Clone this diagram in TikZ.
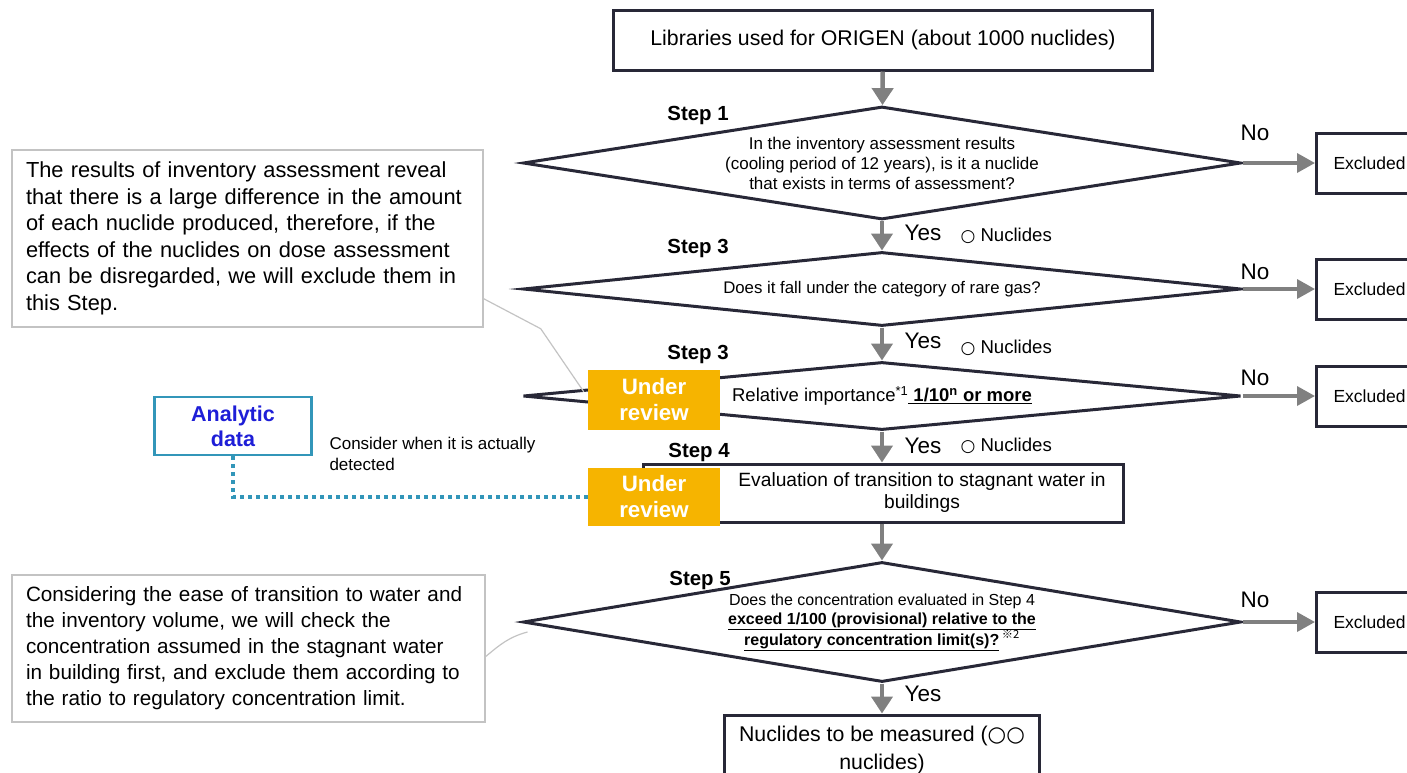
\documentclass[tikz,border=0pt]{standalone}
\usepackage{fontspec}
\setmainfont{Liberation Sans}
\newfontfamily\symfont{DejaVu Sans}
\newfontfamily\cjk{Noto Sans CJK SC}
\usepackage{tikz}
\usetikzlibrary{shapes.geometric,arrows.meta,positioning,calc}

\definecolor{boxline}{RGB}{40,40,55}
\definecolor{arrowgray}{RGB}{128,128,128}
\definecolor{noteline}{RGB}{195,195,195}
\definecolor{reviewbg}{RGB}{246,180,0}
\definecolor{analyticline}{RGB}{50,150,185}
\definecolor{analytictext}{RGB}{30,30,215}

\newcommand{\fsz}[2]{\fontsize{#1}{#2}\selectfont}

\begin{document}
\begin{tikzpicture}[x=1pt,y=-1pt]
        \tikzset{
            decision/.style={draw=boxline, line width=3pt, diamond, inner sep=0pt, align=center},
            procbox/.style={draw=boxline, line width=3pt, align=center, inner sep=0pt},
            exclbox/.style={draw=boxline, line width=3pt, anchor=west, minimum height=60pt,
                text width=95pt, inner xsep=17pt, align=left, font=\fsz{17.5}{20}},
            flowarrow/.style={draw=arrowgray, line width=4.5pt, -{Triangle[width=21pt,length=17pt]}},
            noarrow/.style={draw=arrowgray, line width=3.5pt, -{Triangle[width=19pt,length=18pt]}},
            note/.style={draw=noteline, line width=1.5pt, align=left, inner xsep=14pt},
            review/.style={fill=reviewbg, text=white, align=center, minimum width=132pt,
                font=\bfseries\fsz{22.3}{26}},
            steplbl/.style={font=\bfseries\fsz{20.4}{22}},
            bigtxt/.style={font=\fsz{22.5}{26}},
            nuctxt/.style={anchor=west, font=\fsz{18.6}{22}},
        }
        \useasboundingbox (0,0) rectangle (1407,772);

        % main column
        \node[procbox, minimum width=539pt, minimum height=60pt, font=\fsz{21.3}{26}] (lib) at (883,40)
            {Libraries used for ORIGEN (about 1000 nuclides)};
        \node[decision, aspect=6.35, minimum width=718pt, minimum height=113pt, font=\fsz{17}{20}] (s1) at (882,163)
            {In the inventory assessment results\\(cooling period of 12 years), is it a nuclide\\that exists in terms of assessment?};
        \node[decision, aspect=9.7, minimum width=718pt, minimum height=74pt, font=\fsz{16.8}{20}] (s2) at (882,289)
            {Does it fall under the category of rare gas?};
        \node[decision, aspect=10.5, minimum width=718pt, minimum height=68pt, font=\fsz{18.5}{22}] (s3) at (882,396)
            {Relative importance\textsuperscript{*1}\underline{\textbf{~1/10\textsuperscript{n} or more}}};
        \node[procbox, minimum width=480pt, minimum height=58pt, font=\fsz{19.2}{22}] (eval) at (883,493)
            {\hspace*{78pt}Evaluation of transition to stagnant water in\\\hspace*{78pt}buildings};
        \node[decision, aspect=6, minimum width=718pt, minimum height=120pt, font=\fsz{16}{19}] (s5) at (882,622)
            {Does the concentration evaluated in Step 4\\
             \underline{\textbf{exceed 1/100 (provisional) relative to the}}\\
             \underline{\textbf{regulatory concentration limit(s)?}}\,\textsuperscript{\cjk ※2}};
        \node[procbox, minimum width=315pt, minimum height=70pt, font=\fsz{21.3}{28}] (meas) at (882,750)
            {Nuclides to be measured ({\symfont ○○}\\nuclides)};

        \node[steplbl] (st1) at (698,115) {Step 1};
        \node[steplbl] (st2) at (698,248) {Step 3};
        \node[steplbl] (st3) at (698,354) {Step 3};
        \node[steplbl] (st4) at (699,452) {Step 4};
        \node[steplbl] (st5) at (700,580) {Step 5};

        \draw[flowarrow] (lib) -- (s1);
        \draw[flowarrow] (s1) -- (s2);
        \draw[flowarrow] (s2) -- (s3);
        \draw[flowarrow] (s3.south) -- (s3.south |- eval.north);
        \draw[flowarrow] (s3.south |- eval.south) -- (s5.north);
        \draw[flowarrow] (s5) -- (s5.south |- meas.north);

        \node[bigtxt] (yes1) at (923,233) {Yes};
        \node[bigtxt] (yes2) at (923,341) {Yes};
        \node[bigtxt] (yes3) at (923,446) {Yes};
        \node[bigtxt] (yes5) at (923,694) {Yes};
        \node[nuctxt] (nuc1) at (957,236) {{\symfont\fsz{17}{17}○} Nuclides};
        \node[nuctxt] (nuc2) at (957,348) {{\symfont\fsz{17}{17}○} Nuclides};
        \node[nuctxt] (nuc3) at (957,446) {{\symfont\fsz{17}{17}○} Nuclides};

        % excluded branch
        \node[exclbox] (ex1) at (1315,163) {Excluded};
        \node[exclbox] (ex2) at (1315,289) {Excluded};
        \node[exclbox] (ex3) at (1315,396) {Excluded};
        \node[exclbox] (ex5) at (1315,622) {Excluded};
        \draw[noarrow] (s1.east) -- (ex1.west);
        \draw[noarrow] (s2.east) -- (ex2.west);
        \draw[noarrow] (s3.east) -- (ex3.west);
        \draw[noarrow] (s5.east) -- (ex5.west);
        \node[bigtxt] (no1) at (1255,133) {No};
        \node[bigtxt] (no2) at (1255,272) {No};
        \node[bigtxt] (no3) at (1255,378) {No};
        \node[bigtxt] (no5) at (1255,600) {No};

        % under review / analytic data
        \node[review, minimum height=60pt] (ur1) at (654,400) {Under\\review};
        \node[review, minimum height=58pt] (ur2) at (654,497) {Under\\review};
        \node[draw=analyticline, line width=2.5pt, minimum width=157pt, minimum height=58pt, align=center,
            text=analytictext, font=\bfseries\fsz{21.5}{25}] (ana) at (233,426) {Analytic\\data};
        \node[anchor=north west, align=left, font=\fsz{17}{21}] (cons) at (326,434)
            {Consider when it is actually\\detected};
        \draw[analyticline, line width=4pt, dash pattern=on 4pt off 4pt] (ana.south) |- (ur2.west);

        % notes
        \node[note, text width=443pt, minimum width=471pt, minimum height=177pt, font=\fsz{21.8}{26.5}] (note1) at (247.5,238.5)
            {The results of inventory assessment reveal\\that there is a large difference in the amount\\of each nuclide produced, therefore, if the\\effects of the nuclides on dose assessment\\can be disregarded, we will exclude them in\\this Step.};
        \node[note, text width=445pt, minimum width=473pt, minimum height=147pt, font=\fsz{20.7}{26}] (note2) at (248.5,648.5)
            {Considering the ease of transition to water and\\the inventory volume, we will check the\\concentration assumed in the stagnant water\\in building first, and exclude them according to\\the ratio to regulatory concentration limit.};
        \draw[noteline, line width=1.2pt] ($(note1.south east)+(0,-29)$) -- ++(57,30) -- ($(ur1.north west)+(-4,22)$);
        \draw[noteline, line width=1.2pt] ($(note2.east)+(0,8)$) to[out=40,in=195] ($(s5.west)+(6,10)$);
\end{tikzpicture}
\end{document}
